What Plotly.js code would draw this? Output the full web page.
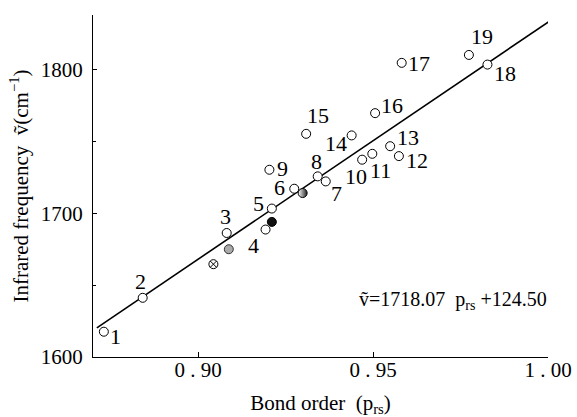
<!DOCTYPE html>
<html>
<head>
<meta charset="utf-8">
<script src="https://cdn.plot.ly/plotly-3.0.1.min.js"></script>
<style>html,body{margin:0;padding:0;background:#fff;}#chart{width:577px;height:417px;}</style>
</head>
<body>
<div id="chart"></div>
<script>
// Numbered compounds (open circles)
const labels  = ['1','2','3','4','5','6','7','8','9','10','11','12','13','14','15','16','17','18','19'];
const bondOrder = [0.8731,0.8842,0.9082,0.9193,0.9211,0.9275,0.9365,0.9342,0.9204,0.9469,0.9498,0.9574,0.9549,0.9439,0.9309,0.9506,0.9582,0.9827,0.9774];
const frequency = [1617.6,1641.2,1686.3,1688.7,1703.3,1717.1,1722.2,1725.7,1730.3,1737.3,1741.4,1739.8,1746.7,1754.2,1755.3,1769.7,1804.7,1803.5,1810.2];

// Unnumbered special points
const crossX = [0.9044], crossY = [1664.6];
const hatchX = [0.9088], hatchY = [1675.0];
const filledX = [0.9211], filledY = [1694.0];
const halfX = [0.9299], halfY = [1714.1];

// Regression line endpoints
const fitX = [0.8711, 1.0006];
const fitY = [1620.3, 1834.0];

// Label offsets (pixels) relative to each point
const labelDx = [12,-2,-1,-12,-13,-15,11,-1,13,-6,8,18,18,-16,12,17,17,18,13];
const labelDy = [-5,16,16,-16,5,1,-12,15,1,-17,-17,-4,9,-8,18,8,-1,-9,18];

const serif = '"Liberation Serif", "DejaVu Serif", serif';

const traces = [
  {x: fitX, y: fitY, mode: 'lines', line: {color: '#000', width: 1.6}, hoverinfo: 'skip', showlegend: false},
  {x: bondOrder, y: frequency, mode: 'markers', showlegend: false,
   marker: {symbol: 'circle', size: 9, color: '#fff', line: {color: '#000', width: 1}}},
  {x: crossX, y: crossY, mode: 'markers', showlegend: false,
   marker: {symbol: 'circle-x', size: 9, color: '#fff', line: {color: '#000', width: 1}}},
  {x: hatchX, y: hatchY, mode: 'markers', showlegend: false,
   marker: {symbol: 'circle', size: 9, color: '#aaa', line: {color: '#333', width: 1}}},
  {x: filledX, y: filledY, mode: 'markers', showlegend: false,
   marker: {symbol: 'circle', size: 9, color: '#111', line: {color: '#000', width: 1}}},
  {x: halfX, y: halfY, mode: 'markers', showlegend: false,
   marker: {symbol: 'circle', size: 9, color: '#fff', gradient: {type: 'horizontal', color: '#222'}, line: {color: '#000', width: 1}}}
];

const annotations = labels.map((t, i) => ({
  x: bondOrder[i], y: frequency[i], xref: 'x', yref: 'y', text: t, showarrow: false,
  xshift: labelDx[i], yshift: labelDy[i], xanchor: 'center', yanchor: 'middle',
  font: {family: serif, size: 22, color: '#000'}
}));
annotations.push({
  x: 0.9454, y: 1639.6, xref: 'x', yref: 'y', xanchor: 'left', yanchor: 'middle', showarrow: false,
  text: 'ṽ=1718.07  p<sub>rs</sub> +124.50',
  font: {family: serif, size: 20, color: '#000'}
});

const layout = {
  width: 577, height: 417,
  margin: {l: 93, r: 29, t: 15, b: 60},
  paper_bgcolor: '#fff', plot_bgcolor: '#fff',
  showlegend: false,
  xaxis: {
    range: [0.87, 1.0], showgrid: false, zeroline: false,
    showline: true, linecolor: '#000', linewidth: 1, mirror: false,
    ticks: 'inside', ticklen: 5, tickcolor: '#000',
    tickvals: [0.90, 0.95, 1.00], ticktext: ['0 . 90', '0 . 95', '1 . 00'],
    ticklabelstandoff: -6,
    tickfont: {family: serif, size: 21, color: '#000'},
    title: {text: 'Bond order  (p<sub>rs</sub>)', font: {family: serif, size: 21, color: '#000'}, standoff: 14}
  },
  yaxis: {
    range: [1600, 1838], showgrid: false, zeroline: false,
    showline: true, linecolor: '#000', linewidth: 1, mirror: false,
    ticks: 'inside', ticklen: 4, tickcolor: '#000',
    tickvals: [1600, 1700, 1800], ticktext: ['1600', '1700', '1800'],
    ticklabelstandoff: 5,
    minor: {tickvals: [1650, 1750], ticks: 'inside', ticklen: 3, tickcolor: '#000'},
    tickfont: {family: serif, size: 21, color: '#000'},
    title: {text: 'Infrared frequency  ṽ(cm<sup>−1</sup>)', font: {family: serif, size: 21, color: '#000'}, standoff: 6}
  },
  annotations: annotations
};

Plotly.newPlot('chart', traces, layout, {staticPlot: true, displayModeBar: false});
</script>
</body>
</html>
